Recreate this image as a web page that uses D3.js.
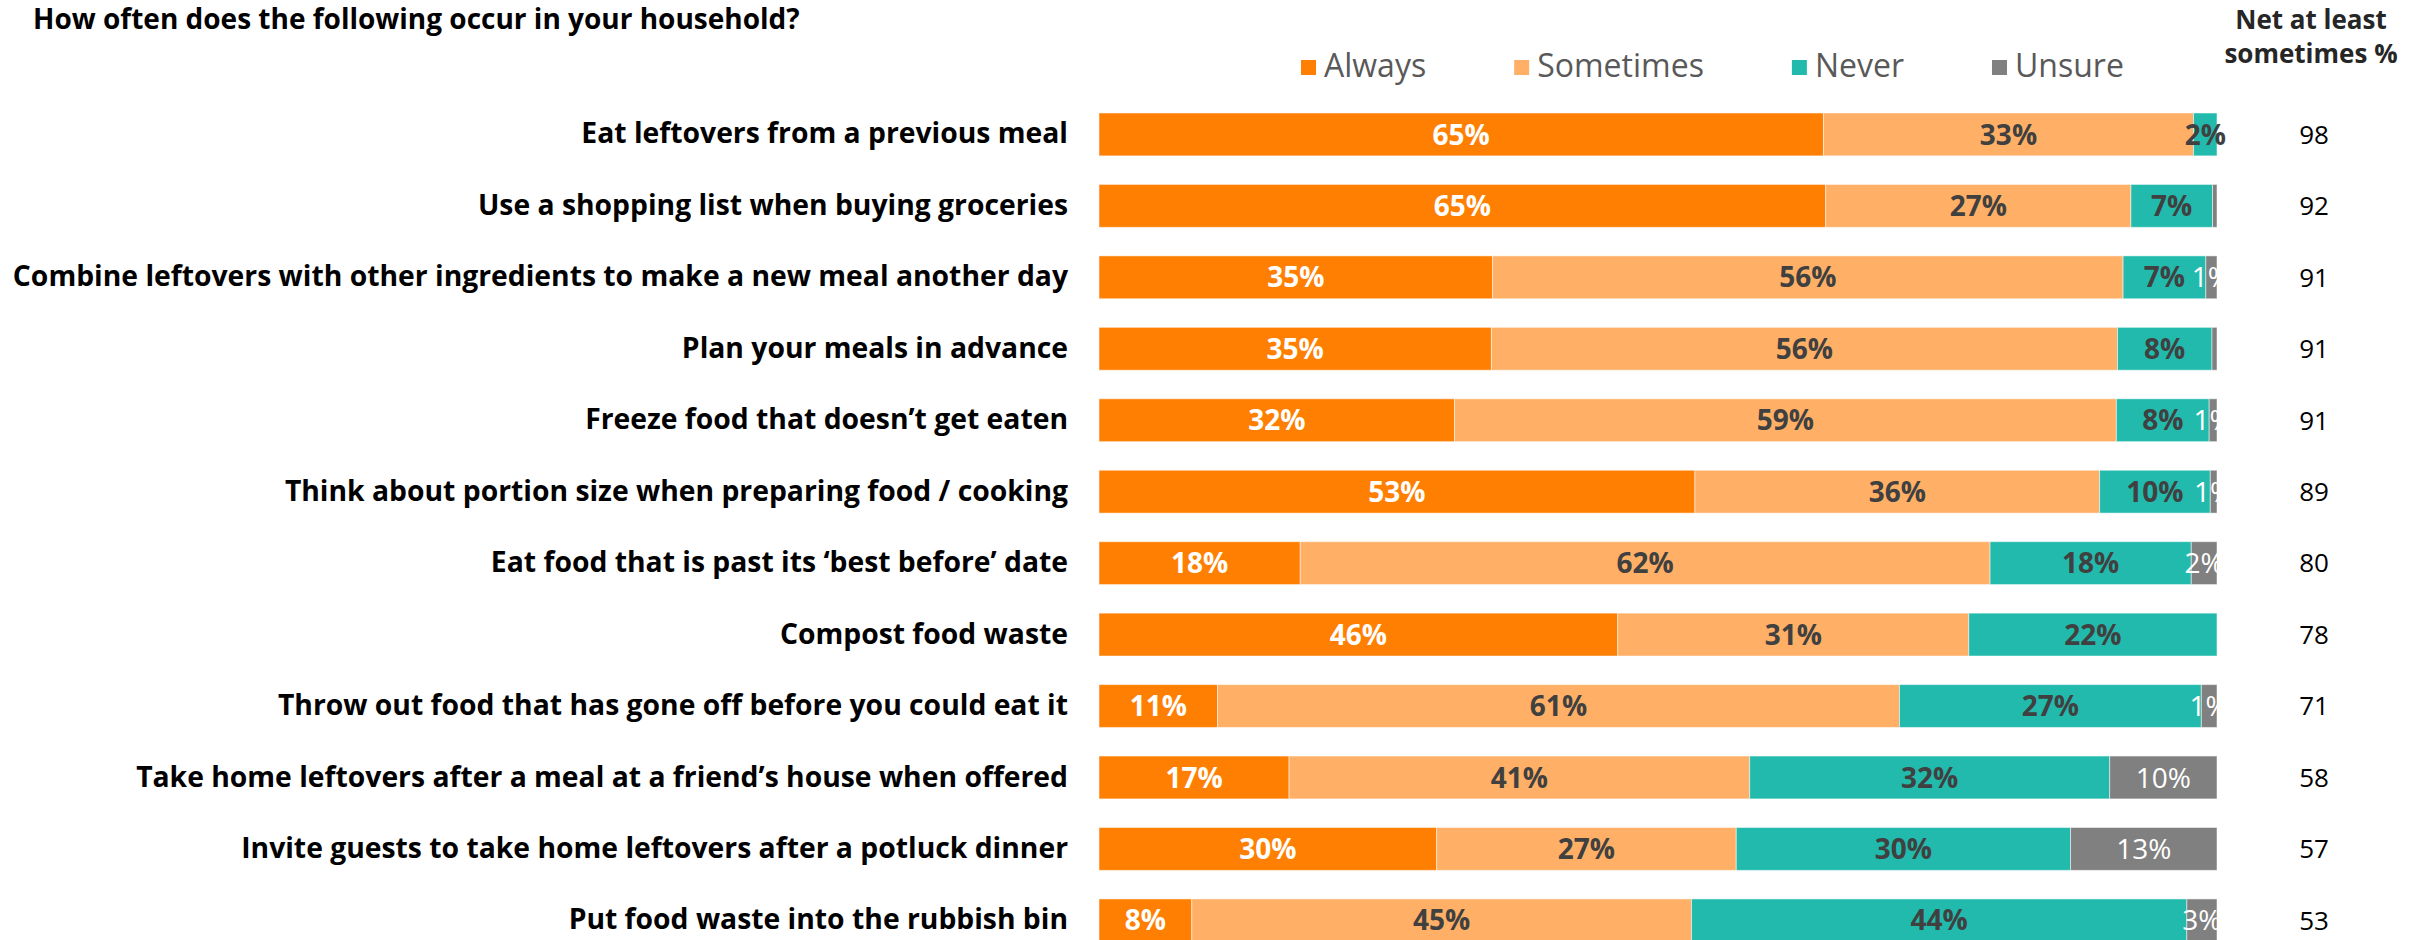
<!DOCTYPE html>
<html>
<head>
<meta charset="utf-8">
<script src="https://cdn.jsdelivr.net/npm/d3@7"></script>
<style>
  html, body { margin: 0; padding: 0; background: #fff; }
  svg { display: block; font-family: "Century Gothic", "Open Sans", sans-serif; }
</style>
</head>
<body>
<svg id="chart" width="2425" height="940"></svg>
<script>
// data
const categories = [
    'Eat leftovers from a previous meal',
    'Use a shopping list when buying groceries',
    'Combine leftovers with other ingredients to make a new meal another day',
    'Plan your meals in advance',
    'Freeze food that doesn\u2019t get eaten',
    'Think about portion size when preparing food / cooking',
    'Eat food that is past its \u2018best before\u2019 date',
    'Compost food waste',
    'Throw out food that has gone off before you could eat it',
    'Take home leftovers after a meal at a friend\u2019s house when offered',
    'Invite guests to take home leftovers after a potluck dinner',
    'Put food waste into the rubbish bin'
];
const always    = [64.8, 65.0, 35.2, 35.1, 31.8, 53.3, 18.0, 46.4, 10.6, 17.0, 30.2, 8.3];
const sometimes = [33.1, 27.3, 56.4, 56.0, 59.2, 36.2, 61.7, 31.4, 61.0, 41.2, 26.8, 44.7];
const never     = [2.1, 7.3, 7.4, 8.45, 8.3, 9.9, 18.0, 22.2, 27.0, 32.2, 29.9, 44.3];
const unsure    = [0, 0.4, 1.0, 0.45, 0.7, 0.6, 2.3, 0, 1.4, 9.6, 13.1, 2.7];
const netAtLeastSometimes = [98, 92, 91, 91, 91, 89, 80, 78, 71, 58, 57, 53];

const seriesNames = ['Always', 'Sometimes', 'Never', 'Unsure'];
const seriesColors = ['#FF7F02', '#FFB066', '#22BAAD', '#808080'];
const labelColors = ['#ffffff', '#404040', '#404040', '#ffffff'];
const labelWeights = ['bold', 'bold', 'bold', 'normal'];

const rows = categories.map((c, i) => ({
    category: c,
    Always: always[i],
    Sometimes: sometimes[i],
    Never: never[i],
    Unsure: unsure[i],
    net: netAtLeastSometimes[i]
}));

const svg = d3.select('#chart');

const x = d3.scaleLinear().domain([0, 100]).range([1099, 2217]);
const y = d3.scaleBand()
    .domain(categories)
    .range([98.7, 956.1])
    .paddingInner(0.4)
    .paddingOuter(0.2);

const stacked = d3.stack().keys(seriesNames)(rows);

// title
svg.append('text')
    .attr('x', 33)
    .attr('y', 29)
    .attr('font-size', 28)
    .attr('font-weight', 'bold')
    .attr('fill', '#000')
    .text('How often does the following occur in your household?');

// category labels
svg.append('g')
    .attr('transform', 'translate(1068,0)')
    .call(d3.axisLeft(y).tickSize(0).tickPadding(0))
    .call(g => g.select('.domain').remove())
    .call(g => g.selectAll('text')
        .attr('font-family', '"Century Gothic", "Open Sans", sans-serif')
        .attr('font-size', 28.3)
        .attr('font-weight', 'bold')
        .attr('fill', '#000'));

// bars
const layers = svg.append('g')
    .selectAll('g')
    .data(stacked)
    .enter().append('g')
    .attr('fill', (d, i) => seriesColors[i]);

layers.selectAll('rect')
    .data(d => d)
    .enter().append('rect')
    .attr('x', d => x(d[0]))
    .attr('y', d => y(d.data.category))
    .attr('width', d => x(d[1]) - x(d[0]))
    .attr('height', y.bandwidth())
    .attr('stroke', '#ffffff')
    .attr('stroke-opacity', 0.5)
    .attr('stroke-width', 1);

// value labels
stacked.forEach((layer, si) => {
    svg.append('g')
        .selectAll('text')
        .data(layer.filter(d => Math.round(d[1] - d[0]) >= 1))
        .enter().append('text')
        .attr('x', d => x((d[0] + d[1]) / 2))
        .attr('y', d => y(d.data.category) + y.bandwidth() / 2)
        .attr('dy', '0.36em')
        .attr('text-anchor', 'middle')
        .attr('font-size', 28)
        .attr('font-weight', labelWeights[si])
        .attr('fill', labelColors[si])
        .text(d => Math.round(d[1] - d[0]) + '%');
});

// net column
svg.append('g')
    .selectAll('text')
    .data(rows)
    .enter().append('text')
    .attr('x', 2314)
    .attr('y', d => y(d.category) + y.bandwidth() / 2)
    .attr('dy', '0.36em')
    .attr('text-anchor', 'middle')
    .attr('font-size', 26)
    .attr('fill', '#000')
    .text(d => d.net);

const netHead = svg.append('text')
    .attr('text-anchor', 'middle')
    .attr('font-size', 26)
    .attr('font-weight', 'bold')
    .attr('fill', '#262626');
netHead.append('tspan').attr('x', 2311).attr('y', 29).text('Net at least');
netHead.append('tspan').attr('x', 2311).attr('y', 63).text('sometimes %');

// legend
const legend = svg.append('g');
let lx = 1301;
seriesNames.forEach((name, i) => {
    legend.append('rect')
        .attr('x', lx)
        .attr('y', 60)
        .attr('width', 15)
        .attr('height', 15)
        .attr('fill', seriesColors[i]);
    const t = legend.append('text')
        .attr('x', lx + 23)
        .attr('y', 77)
        .attr('font-size', 32)
        .attr('fill', '#595959')
        .text(name);
    lx += 23 + t.node().getComputedTextLength() + 88;
});
</script>
</body>
</html>
